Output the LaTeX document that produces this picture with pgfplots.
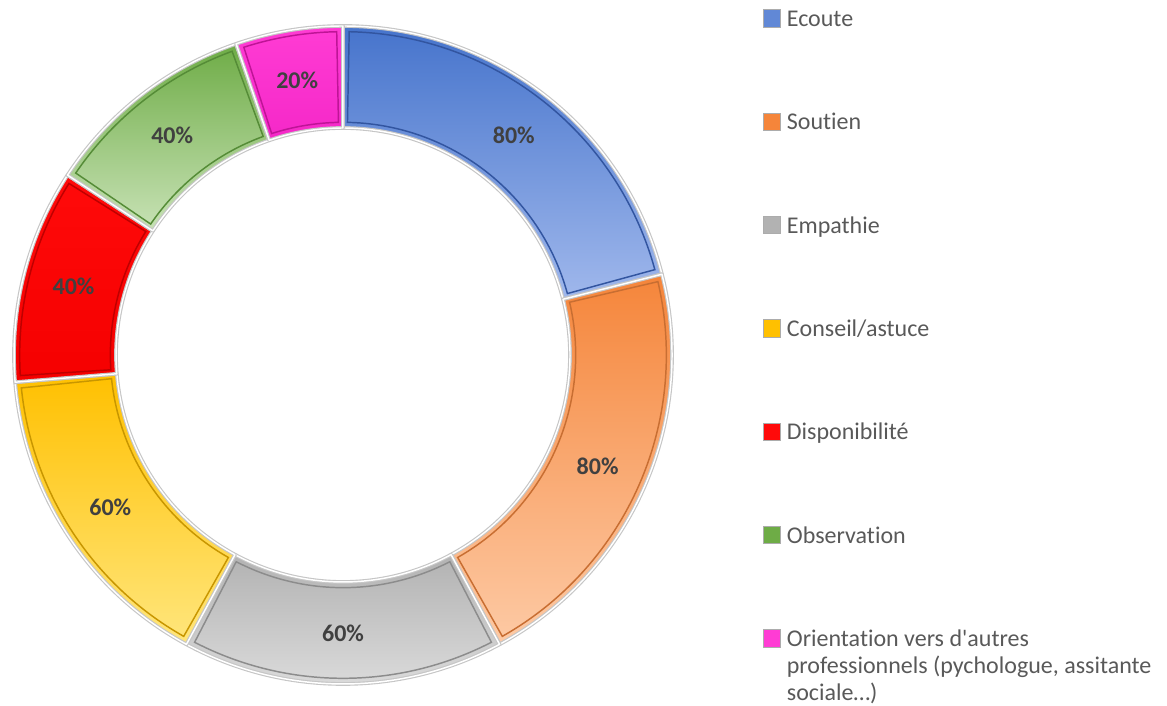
\documentclass[border=0pt]{standalone}
\usepackage{pgfplots}
\pgfplotsset{compat=1.18}
\usepackage{pgfplotstable}
\usepackage{fontspec}
\setmainfont{Carlito}[Ligatures={NoCommon}]

\definecolor{blueT}{RGB}{70,116,204}
\definecolor{blueB}{RGB}{160,184,236}
\definecolor{blueD}{RGB}{50,85,160}
\definecolor{orangeT}{RGB}{245,133,58}
\definecolor{orangeB}{RGB}{253,202,165}
\definecolor{orangeD}{RGB}{200,110,50}
\definecolor{grayT}{RGB}{178,178,178}
\definecolor{grayB}{RGB}{222,222,222}
\definecolor{grayD}{RGB}{140,140,140}
\definecolor{yellowT}{RGB}{255,192,0}
\definecolor{yellowB}{RGB}{255,230,125}
\definecolor{yellowD}{RGB}{200,150,0}
\definecolor{redT}{RGB}{255,10,10}
\definecolor{redB}{RGB}{245,0,0}
\definecolor{redD}{RGB}{190,0,0}
\definecolor{greenT}{RGB}{110,172,70}
\definecolor{greenB}{RGB}{200,226,182}
\definecolor{greenD}{RGB}{85,140,55}
\definecolor{magT}{RGB}{255,60,212}
\definecolor{magB}{RGB}{245,40,200}
\definecolor{magD}{RGB}{190,20,150}
\definecolor{lbl}{RGB}{64,64,64}
\definecolor{leg}{RGB}{89,89,89}

\pgfplotstableread[col sep=comma]{
key,value
Ecoute,80
Soutien,80
Empathie,60
Conseil,60
Disponibilite,40
Observation,40
Orientation,20
}\donutdata

\newcommand\getv[2]{\pgfplotstablegetelem{#1}{value}\of\donutdata\global\let#2\pgfplotsretval}
\getv{0}\vA \getv{1}\vB \getv{2}\vC \getv{3}\vD \getv{4}\vE \getv{5}\vF \getv{6}\vG
\pgfmathsetmacro\vsum{\vA+\vB+\vC+\vD+\vE+\vF+\vG}
\pgfmathsetmacro\aA{90}
\pgfmathsetmacro\aB{\aA-\vA/\vsum*360}
\pgfmathsetmacro\aC{\aB-\vB/\vsum*360}
\pgfmathsetmacro\aD{\aC-\vC/\vsum*360}
\pgfmathsetmacro\aE{\aD-\vD/\vsum*360}
\pgfmathsetmacro\aF{\aE-\vE/\vsum*360}
\pgfmathsetmacro\aG{\aF-\vF/\vsum*360}
\pgfmathsetmacro\aH{\aG-\vG/\vsum*360}

% radii (1 px = 0.75pt)
\def\Ro{246.75pt}
\def\Ri{170.25pt}
\def\Rob{242.5pt}
\def\Rib{174.5pt}
\def\Rm{208.5pt}

\newcommand\seg[6]{%
\fill[top color=#3,bottom color=#4,shift={(axis cs:343,351)}] (#1:\Ro) arc[start angle=#1,end angle=#2,radius=\Ro] -- (#2:\Ri) arc[start angle=#2,end angle=#1,radius=\Ri] -- cycle;
\draw[#5,line width=1.1pt,shift={(axis cs:343,351)}] ({#1-1.1}:\Rob) arc[start angle={#1-1.1},end angle={#2+1.1},radius=\Rob] -- ({#2+1.1}:\Rib) arc[start angle={#2+1.1},end angle={#1-1.1},radius=\Rib] -- cycle;
\draw[gray!45,line width=2.8pt,line join=round,shift={(axis cs:343,351)}] (#1:\Ro) arc[start angle=#1,end angle=#2,radius=\Ro] -- (#2:\Ri) arc[start angle=#2,end angle=#1,radius=\Ri] -- cycle;
\draw[white,line width=1.1pt,line join=round,shift={(axis cs:343,351)}] (#1:\Ro) arc[start angle=#1,end angle=#2,radius=\Ro] -- (#2:\Ri) arc[start angle=#2,end angle=#1,radius=\Ri] -- cycle;
\path[shift={(axis cs:343,351)}] ({(#1+#2)/2}:\Rm) node[font=\fontsize{18}{21}\selectfont\bfseries,text=lbl]{#6};
}

\begin{document}
\begin{tikzpicture}
\begin{axis}[
  x=0.75pt, y=0.75pt,
  xmin=0, xmax=1167, ymin=0, ymax=706,
  hide axis, clip=false,
  legend image code/.code={\draw[#1,draw=gray!65,line width=0.7pt] (0.4pt,-0.4pt) rectangle (13.1pt,12.4pt); \path (0pt,0pt) (17.5pt,0pt);},
  legend cell align=left,
  legend style={at={(axis cs:763,696.5)}, anchor=north west, draw=none, fill=none,
    inner sep=0pt, outer sep=0pt, row sep=61.75pt,
    font=\fontsize{18}{20.25}\selectfont, text=leg,
    nodes={inner sep=0pt, text height=12.5pt, text depth=3pt, anchor=base west}},
]
\path (axis cs:0,0) rectangle (axis cs:1167,706);
\addlegendimage{fill=blueT!70!blueB}
\addlegendentry{Ecoute}
\addlegendimage{fill=orangeT}
\addlegendentry{Soutien}
\addlegendimage{fill=grayT}
\addlegendentry{Empathie}
\addlegendimage{fill=yellowT}
\addlegendentry{Conseil/astuce}
\addlegendimage{fill=redT}
\addlegendentry{Disponibilité}
\addlegendimage{fill=greenT}
\addlegendentry{Observation}
\addlegendimage{fill=magT}
\addlegendentry{\begin{tabular}[t]{@{}l@{}}Orientation vers d\textquotesingle autres\\professionnels (pychologue, assitante\\sociale…)\end{tabular}}

\seg{\aA}{\aB}{blueT}{blueB}{blueD}{\vA\%}
\seg{\aB}{\aC}{orangeT}{orangeB}{orangeD}{\vB\%}
\seg{\aC}{\aD}{grayT}{grayB}{grayD}{\vC\%}
\seg{\aD}{\aE}{yellowT}{yellowB}{yellowD}{\vD\%}
\seg{\aE}{\aF}{redT}{redB}{redD}{\vE\%}
\seg{\aF}{\aG}{greenT}{greenB}{greenD}{\vF\%}
\seg{\aG}{\aH}{magT}{magB}{magD}{\vG\%}
\end{axis}
\end{tikzpicture}
\end{document}
